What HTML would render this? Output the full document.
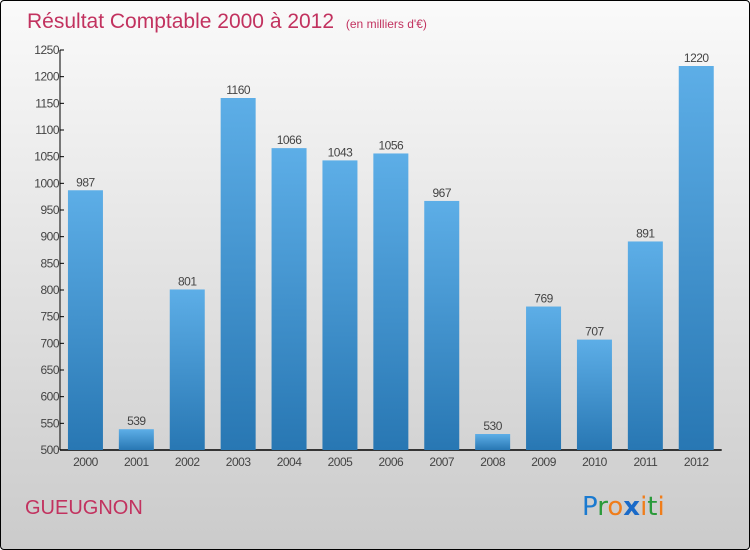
<!DOCTYPE html>
<html><head><meta charset="utf-8"><style>
html,body{margin:0;padding:0;}
body{width:750px;height:550px;overflow:hidden;font-family:"Liberation Sans",sans-serif;}
#wrap{position:absolute;left:0;top:0;width:748px;height:548px;border:1px solid #000;border-radius:4px;background:linear-gradient(#fafafa,#cbcbcb);}
</style></head><body>
<div id="wrap">
<svg id="chart" width="750" height="550" style="position:absolute;left:-1px;top:-1px">
<defs><linearGradient id="bg" x1="0" y1="0" x2="0" y2="1"><stop offset="0" stop-color="#5daee7"/><stop offset="1" stop-color="#2877b3"/></linearGradient></defs>
<text x="27" y="28" font-size="21" fill="#c2325f">Résultat Comptable 2000 à 2012 <tspan font-size="12" dx="6">(en milliers d'€)</tspan></text>
<g id="grid"></g>
<g id="bars"></g>
<text x="25" y="514" font-size="20" fill="#c2325f">GUEUGNON</text>
<text x="582" y="515" font-size="26" font-family="'DejaVu Sans',sans-serif"><tspan fill="#1a7ad0">P</tspan><tspan fill="#2a9a3a">r</tspan><tspan fill="#f07d1a">o</tspan><tspan fill="#1a6ac8" font-weight="bold">x</tspan><tspan fill="#f07d1a">i</tspan><tspan fill="#2a9a3a">t</tspan><tspan fill="#f07d1a">i</tspan></text>
</svg></div>
<script>
const categories=["2000","2001","2002","2003","2004","2005","2006","2007","2008","2009","2010","2011","2012"];
const values=[987,539,801,1160,1066,1043,1056,967,530,769,707,891,1220];
const yTicks=[500,550,600,650,700,750,800,850,900,950,1000,1050,1100,1150,1200,1250];
const NS="http://www.w3.org/2000/svg";
const x0=60,band=50.9,bw=35,yMin=500,yMax=1250,yTop=50,yBot=450;
const y=v=>yBot-(v-yMin)/(yMax-yMin)*(yBot-yTop);
const xc=i=>x0+band*(i+0.5);
const g=document.getElementById('grid'),b=document.getElementById('bars');
function mk(t,a,p){const e=document.createElementNS(NS,t);for(const k in a)e.setAttribute(k,a[k]);p.appendChild(e);return e;}
const ya=mk('line',{x1:x0,x2:x0,y1:yTop,y2:yBot,stroke:'#000'},g);


const xa=mk('line',{x1:x0,x2:x0+band*categories.length,y1:yBot,y2:yBot,stroke:'#000','stroke-width':1.5},g);


yTicks.forEach(v=>{
 mk('line',{x1:x0,x2:x0+4,y1:y(v),y2:y(v),stroke:'#000'},g);
 const t=mk('text',{x:x0-1,y:y(v)+4,'text-anchor':'end','font-size':12,fill:'#444','letter-spacing':'-0.5'},g);
 t.textContent=v;
 
 
});
categories.forEach((c,i)=>{
 const r=mk('rect',{x:xc(i)-bw/2,y:y(values[i]),width:bw,height:yBot-y(values[i]),fill:'url(#bg)'},b);
 
 
 const l=mk('text',{x:xc(i),y:y(values[i])-4,'text-anchor':'middle','font-size':12,fill:'#444','letter-spacing':'-0.5'},b);
 l.textContent=values[i];
 
 
 const xl=mk('text',{x:xc(i),y:466,'text-anchor':'middle','font-size':12,fill:'#444','letter-spacing':'-0.5'},b);
 xl.textContent=c;
 
 
});
</script>
</body></html>
